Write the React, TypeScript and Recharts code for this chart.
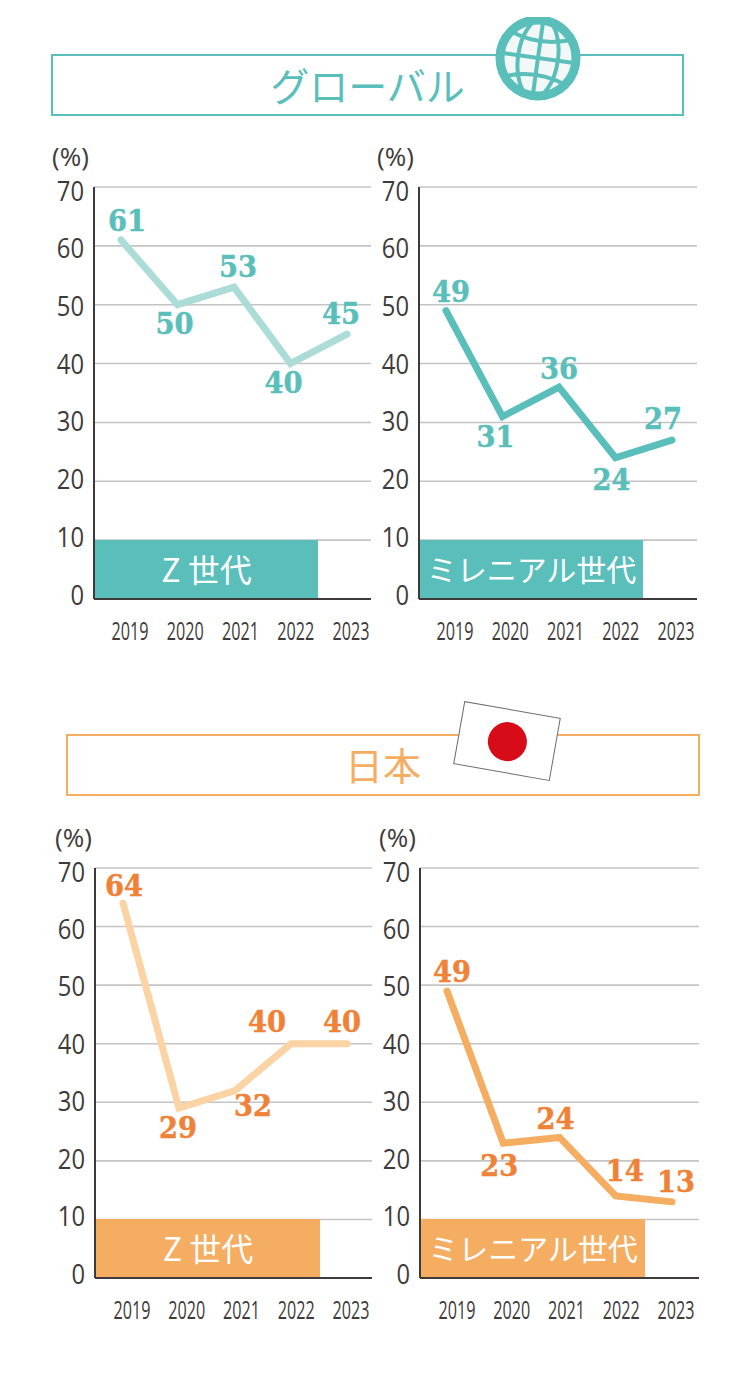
import React from "react";
import { LineChart, Line, XAxis, YAxis, CartesianGrid, LabelList } from "recharts";

const years = ["2019", "2020", "2021", "2022", "2023"];
const yTicks = [0, 10, 20, 30, 40, 50, 60, 70];
const globalGenZ = [61, 50, 53, 40, 45];
const globalMillennial = [49, 31, 36, 24, 27];
const japanGenZ = [64, 29, 32, 40, 40];
const japanMillennial = [49, 23, 24, 14, 13];

const TEAL = "#5abfba";
const TEAL_LIGHT = "#acdcd7";
const ORANGE = "#f5ad62";
const ORANGE_LIGHT = "#fbd3a5";
const ORANGE_TEXT = "#f08237";
const INK = "#3e3a39";
const SANS = "'Open Sans','Noto Sans',sans-serif";
const CJK = "'Noto Sans CJK JP',sans-serif";

type Offset = [number, number];
type PanelProps = {
  values: number[];
  labelOffsets: Offset[];
  axisX: number;
  top: number;
  plotW: number;
  plotH: number;
  lineColor: string;
  textColor: string;
  bandColor: string;
  bandWidth: number;
  name: string;
  nameSize: number;
  pad: [number, number];
  tickPad: [number, number];
  percentX: number;
};

const Y_AXIS_W = 45;
const CHART_TOP_PAD = 18;
const CHART_RIGHT_PAD = 20;
const BOTTOM = 50;

function YTick(props: any) {
  const { x, y, payload } = props;
  const s = String(payload.value);
  return (
    <text
      x={x + 5}
      y={y - 5 + (Number(s) * 8) / 70}
      textAnchor="end"
      dominantBaseline="central"
      fontFamily={SANS}
      fontWeight={400}
      fontSize={27}
      fill={INK}
      textLength={s.length * 13.6}
      lengthAdjust="spacingAndGlyphs"
    >
      {s}
    </text>
  );
}

function XTick(props: any) {
  const { x, y, payload } = props;
  return (
    <text
      x={x}
      y={y + 13}
      textAnchor="middle"
      dominantBaseline="central"
      fontFamily={SANS}
      fontSize={26}
      fill={INK}
      textLength={37}
      lengthAdjust="spacingAndGlyphs"
    >
      {payload.value}
    </text>
  );
}

function Panel(p: PanelProps) {
  const data = years.map((year, i) => ({ year, value: p.values[i] }));
  const left = p.axisX - Y_AXIS_W;
  const renderLabel = (props: any) => {
    const { x, y, value, index } = props;
    const [dx, dy] = p.labelOffsets[index];
    return (
      <text
        x={x + dx}
        y={y + dy}
        textAnchor="middle"
        dominantBaseline="central"
        fontFamily="'DejaVu Serif',serif"
        fontWeight={700}
        fontSize={30}
        fill={p.textColor}
        stroke={p.textColor}
        strokeWidth={0.5}
        textLength={38}
        lengthAdjust="spacingAndGlyphs"
      >
        {value}
      </text>
    );
  };
  return (
    <>
      <div
        style={{
          position: "absolute",
          left: p.percentX + 1,
          top: p.top - 44,
          fontFamily: SANS,
          fontWeight: 400,
          fontSize: 26,
          lineHeight: "26px",
          color: INK,
          whiteSpace: "nowrap",
        }}
      >
        (%)
      </div>
      <div style={{ position: "absolute", left, top: p.top - CHART_TOP_PAD }}>
        <LineChart
          width={Y_AXIS_W + p.plotW + CHART_RIGHT_PAD}
          height={p.plotH + CHART_TOP_PAD + BOTTOM}
          data={data}
          margin={{ top: CHART_TOP_PAD, right: CHART_RIGHT_PAD, bottom: 0, left: 0 }}
        >
          <CartesianGrid horizontal vertical={false} stroke="#c4c4c4" strokeWidth={1.6} />
          <XAxis dataKey="year" xAxisId="points" hide padding={{ left: p.pad[0], right: p.pad[1] }} />
          <XAxis
            dataKey="year"
            xAxisId="labels"
            height={BOTTOM}
            padding={{ left: p.tickPad[0], right: p.tickPad[1] }}
            axisLine={{ stroke: INK, strokeWidth: 2 }}
            tickLine={false}
            tickMargin={12}
            interval={0}
            tick={<XTick />}
          />
          <YAxis
            xAxisId="points"
            width={Y_AXIS_W}
            domain={[0, 70]}
            ticks={yTicks}
            interval={0}
            axisLine={{ stroke: INK, strokeWidth: 2 }}
            tickLine={false}
            tickMargin={9}
            tick={<YTick />}
          />
          <Line
            xAxisId="points"
            dataKey="value"
            type="linear"
            stroke={p.lineColor}
            strokeWidth={7}
            strokeLinecap="round"
            strokeLinejoin="miter"
            dot={false}
            activeDot={false}
            isAnimationActive={false}
          >
            <LabelList dataKey="value" content={renderLabel} />
          </Line>
        </LineChart>
      </div>
      <div
        style={{
          position: "absolute",
          left: p.axisX + 1,
          top: p.top + (p.plotH * 6) / 7,
          width: p.bandWidth,
          height: p.plotH / 7 - 1,
          background: p.bandColor,
          color: "#fff",
          fontFamily: CJK,
          fontSize: p.nameSize,
          lineHeight: `${p.plotH / 7 - 1}px`,
          textAlign: "center",
          whiteSpace: "pre",
        }}
      >
        {p.name}
      </div>
    </>
  );
}

function Globe() {
  return (
    <svg
      width={100}
      height={100}
      viewBox="0 0 100 100"
      style={{ position: "absolute", left: 488, top: 8 }}
    >
      <defs>
        <clipPath id="gclip">
          <rect x={0} y={9} width={100} height={91} />
        </clipPath>
      </defs>
      <g clipPath="url(#gclip)">
        <circle cx={50} cy={50} r={38} fill="#f2f8f8" stroke={TEAL} strokeWidth={9} />
        <g fill="none" stroke={TEAL} strokeWidth={4} transform="rotate(8 50 50)">
          <ellipse cx={50} cy={50} rx={20} ry={40} />
          <line x1={50} y1={10} x2={50} y2={90} />
          <path d="M16 26 Q50 40 84 26" />
          <line x1={10} y1={50} x2={90} y2={50} />
          <path d="M16 74 Q50 60 84 74" />
        </g>
      </g>
    </svg>
  );
}

function Flag() {
  return (
    <div
      style={{
        position: "absolute",
        left: 457.75,
        top: 709,
        width: 97.5,
        height: 64,
        background: "#fff",
        border: "1px solid #6a6a6a",
        boxSizing: "border-box",
        transform: "rotate(10deg)",
      }}
    >
      <div
        style={{
          position: "absolute",
          left: 28.75,
          top: 12,
          width: 39,
          height: 39,
          borderRadius: "50%",
          background: "#d70c18",
        }}
      />
    </div>
  );
}

function Header(props: { left: number; top: number; width: number; color: string; text: string; size: number; border: number }) {
  return (
    <div
      style={{
        position: "absolute",
        left: props.left,
        top: props.top,
        width: props.width,
        height: 62,
        boxSizing: "border-box",
        border: `${props.border}px solid ${props.color}`,
        color: props.color,
        fontFamily: CJK,
        fontSize: props.size,
        lineHeight: "56px",
        textAlign: "center",
      }}
    >
      {props.text}
    </div>
  );
}

export default function App() {
  return (
    <div style={{ position: "absolute", left: 0, top: 0, width: 750, height: 1380, background: "#fff", overflow: "hidden" }}>
      <Header left={51} top={54} width={633} color={TEAL} text="グローバル" size={39} border={2} />
      <Globe />
      <Panel
        values={globalGenZ}
        labelOffsets={[[6, -19], [-3, 19], [4, -21], [-7, 19], [-6, -21]]}
        axisX={94}
        top={187}
        plotW={277}
        plotH={412}
        lineColor={TEAL_LIGHT}
        textColor={TEAL}
        bandColor={TEAL}
        bandWidth={223}
        name="Z 世代"
        nameSize={32}
        pad={[27, 24]}
        tickPad={[36, 20]}
        percentX={51}
      />
      <Panel
        values={globalMillennial}
        labelOffsets={[[5, -19], [-7, 20], [0, -19], [-4, 22], [-9, -22]]}
        axisX={419}
        top={187}
        plotW={278}
        plotH={412}
        lineColor={TEAL}
        textColor={TEAL}
        bandColor={TEAL}
        bandWidth={223}
        name="ミレニアル世代"
        nameSize={30}
        pad={[27, 25]}
        tickPad={[36, 21]}
        percentX={376}
      />
      <Header left={66} top={734} width={634} color={ORANGE} text="日本" size={38} border={2} />
      <Flag />
      <Panel
        values={japanGenZ}
        labelOffsets={[[1, -18], [-1, 19], [18, 15], [-24, -22], [-5, -22]]}
        axisX={95}
        top={868}
        plotW={277}
        plotH={410}
        lineColor={ORANGE_LIGHT}
        textColor={ORANGE_TEXT}
        bandColor={ORANGE}
        bandWidth={224}
        name="Z 世代"
        nameSize={32}
        pad={[28, 25]}
        tickPad={[37, 21]}
        percentX={54}
      />
      <Panel
        values={japanMillennial}
        labelOffsets={[[5, -20], [-4, 22], [-4, -19], [9, -26], [4, -20]]}
        axisX={420}
        top={868}
        plotW={279}
        plotH={410}
        lineColor={ORANGE}
        textColor={ORANGE_TEXT}
        bandColor={ORANGE}
        bandWidth={224}
        name="ミレニアル世代"
        nameSize={30}
        pad={[27, 27]}
        tickPad={[37, 23]}
        percentX={378}
      />
    </div>
  );
}
